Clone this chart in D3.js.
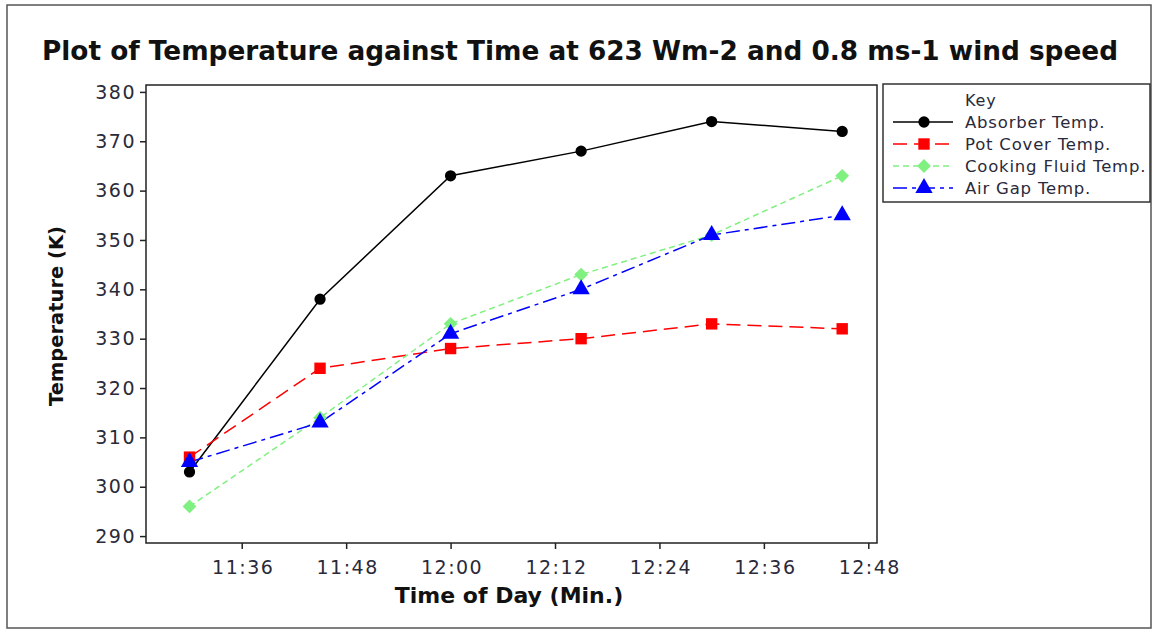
<!DOCTYPE html>
<html>
<head>
<meta charset="utf-8">
<script src="https://cdn.jsdelivr.net/npm/d3@7"></script>
<style>
  body { margin: 0; background: #fff; }
  text { font-family: "DejaVu Sans", Verdana, sans-serif; }
</style>
</head>
<body>
<svg id="chart" width="1154" height="631"></svg>
<script>
// data
var times = ['11:30', '11:45', '12:00', '12:15', '12:30', '12:45'];
var absorber = [303, 338, 363, 368, 374, 372];
var potCover = [306, 324, 328, 330, 333, 332];
var cookingFluid = [296, 314, 333, 343, 351, 363];
var airGap = [305, 313, 331, 340, 351, 355];
var seriesNames = ['Absorber Temp.', 'Pot Cover Temp.', 'Cooking Fluid Temp.', 'Air Gap Temp.'];
var yTicks = [290, 300, 310, 320, 330, 340, 350, 360, 370, 380];
var xTicks = ['11:36', '11:48', '12:00', '12:12', '12:24', '12:36', '12:48'];

var parse = d3.timeParse('%H:%M');

var svg = d3.select('#chart'),
    margin = { top: 85, right: 277, bottom: 88, left: 146 },
    width = 1154 - margin.left - margin.right,
    height = 631 - margin.top - margin.bottom;

// buitenste kader
svg.append('rect')
    .attr('x', 7).attr('y', 5)
    .attr('width', 1144).attr('height', 623)
    .attr('fill', 'none').attr('stroke', '#555').attr('stroke-width', 1.5);

svg.append('text')
    .attr('x', 42).attr('y', 60)
    .attr('font-size', 26).attr('font-weight', 'bold')
    .attr('textLength', 1076).attr('lengthAdjust', 'spacingAndGlyphs')
    .attr('fill', '#111')
    .text('Plot of Temperature against Time at 623 Wm-2 and 0.8 ms-1 wind speed');

var x = d3.scaleTime()
    .domain([d3.timeMinute.offset(parse('11:25'), 0.6), d3.timeMinute.offset(parse('12:49'), 0.5)])
    .range([0, width]);
var y = d3.scaleLinear().domain([288.6, 381.4]).range([height, 0]);

var g = svg.append('g')
    .attr('transform', 'translate(' + margin.left + ',' + margin.top + ')');

g.append('rect')
    .attr('width', width).attr('height', height)
    .attr('fill', 'none').attr('stroke', '#222').attr('stroke-width', 1.5);

var xAxis = g.append('g')
    .attr('transform', 'translate(0,' + height + ')')
    .call(d3.axisBottom(x)
      .tickValues(xTicks.map(parse))
      .tickFormat(d3.timeFormat('%H:%M'))
      .tickSize(6).tickSizeOuter(0));

var yAxis = g.append('g')
    .call(d3.axisLeft(y).tickValues(yTicks).tickSize(6).tickSizeOuter(0));

[xAxis, yAxis].forEach(function(a) {
  a.select('.domain').remove();
  a.selectAll('line').attr('stroke', '#222').attr('stroke-width', 1.5);
  a.selectAll('text')
      .attr('font-family', '"DejaVu Sans", Verdana, sans-serif')
      .attr('font-size', 19).attr('letter-spacing', 1.5)
      .attr('fill', '#2a2a3a');
});
xAxis.selectAll('text').attr('dy', '1.15em').attr('x', 1);
yAxis.selectAll('text').attr('x', -10);

svg.append('text')
    .attr('x', 509).attr('y', 603)
    .attr('text-anchor', 'middle')
    .attr('font-size', 22).attr('font-weight', 'bold').attr('fill', '#111')
    .text('Time of Day (Min.)');

svg.append('text')
    .attr('transform', 'translate(63,' + 316 + ') rotate(-90)')
    .attr('text-anchor', 'middle')
    .attr('font-size', 19.5).attr('font-weight', 'bold').attr('fill', '#111')
    .text('Temperature (K)');

// ruit = vierkant 45 graden gedraaid
var series = [
  { name: seriesNames[0], values: absorber, color: '#000', dash: null, symbol: d3.symbolCircle, size: 100, rot: 0 },
  { name: seriesNames[1], values: potCover, color: '#ff0000', dash: '14,7', symbol: d3.symbolSquare, size: 130, rot: 0 },
  { name: seriesNames[2], values: cookingFluid, color: '#80f080', dash: '6,4', symbol: d3.symbolSquare, size: 95, rot: 45 },
  { name: seriesNames[3], values: airGap, color: '#0000ff', dash: '14,5,4,5', symbol: d3.symbolTriangle, size: 130, rot: 0 }
];

var line = d3.line()
    .x(function(d, i) { return x(parse(times[i])); })
    .y(function(d) { return y(d); });

series.forEach(function(s) {
  g.append('path')
      .datum(s.values)
      .attr('fill', 'none')
      .attr('stroke', s.color)
      .attr('stroke-width', 1.5)
      .attr('stroke-dasharray', s.dash)
      .attr('d', line);
});

series.forEach(function(s) {
  g.selectAll(null)
      .data(s.values)
    .enter().append('path')
      .attr('transform', function(d, i) {
        return 'translate(' + x(parse(times[i])) + ',' + y(d) + ') rotate(' + s.rot + ')';
      })
      .attr('fill', s.color)
      .attr('d', d3.symbol().type(s.symbol).size(s.size));
});

// legenda
var lg = svg.append('g').attr('transform', 'translate(883,84)');
lg.append('rect')
    .attr('width', 267).attr('height', 118)
    .attr('fill', '#fff').attr('stroke', '#333').attr('stroke-width', 1.5);
lg.append('text')
    .attr('x', 82).attr('y', 22)
    .attr('font-size', 16).attr('letter-spacing', 0.8).attr('fill', '#2a2a3a')
    .text('Key');

var item = lg.selectAll('.item')
    .data(series)
  .enter().append('g')
    .attr('class', 'item')
    .attr('transform', function(d, i) { return 'translate(0,' + (38 + i * 22) + ')'; });

item.append('line')
    .attr('x1', 10).attr('x2', 70)
    .attr('stroke', function(d) { return d.color; })
    .attr('stroke-width', 1.5)
    .attr('stroke-dasharray', function(d) { return d.dash; });
item.append('path')
    .attr('transform', function(d) { return 'translate(41,0) rotate(' + d.rot + ')'; })
    .attr('fill', function(d) { return d.color; })
    .attr('d', function(d) { return d3.symbol().type(d.symbol).size(d.size)(); });
item.append('text')
    .attr('x', 82).attr('dy', '0.35em')
    .attr('font-size', 16.5).attr('letter-spacing', 0.8).attr('fill', '#2a2a3a')
    .text(function(d) { return d.name; });
</script>
</body>
</html>
